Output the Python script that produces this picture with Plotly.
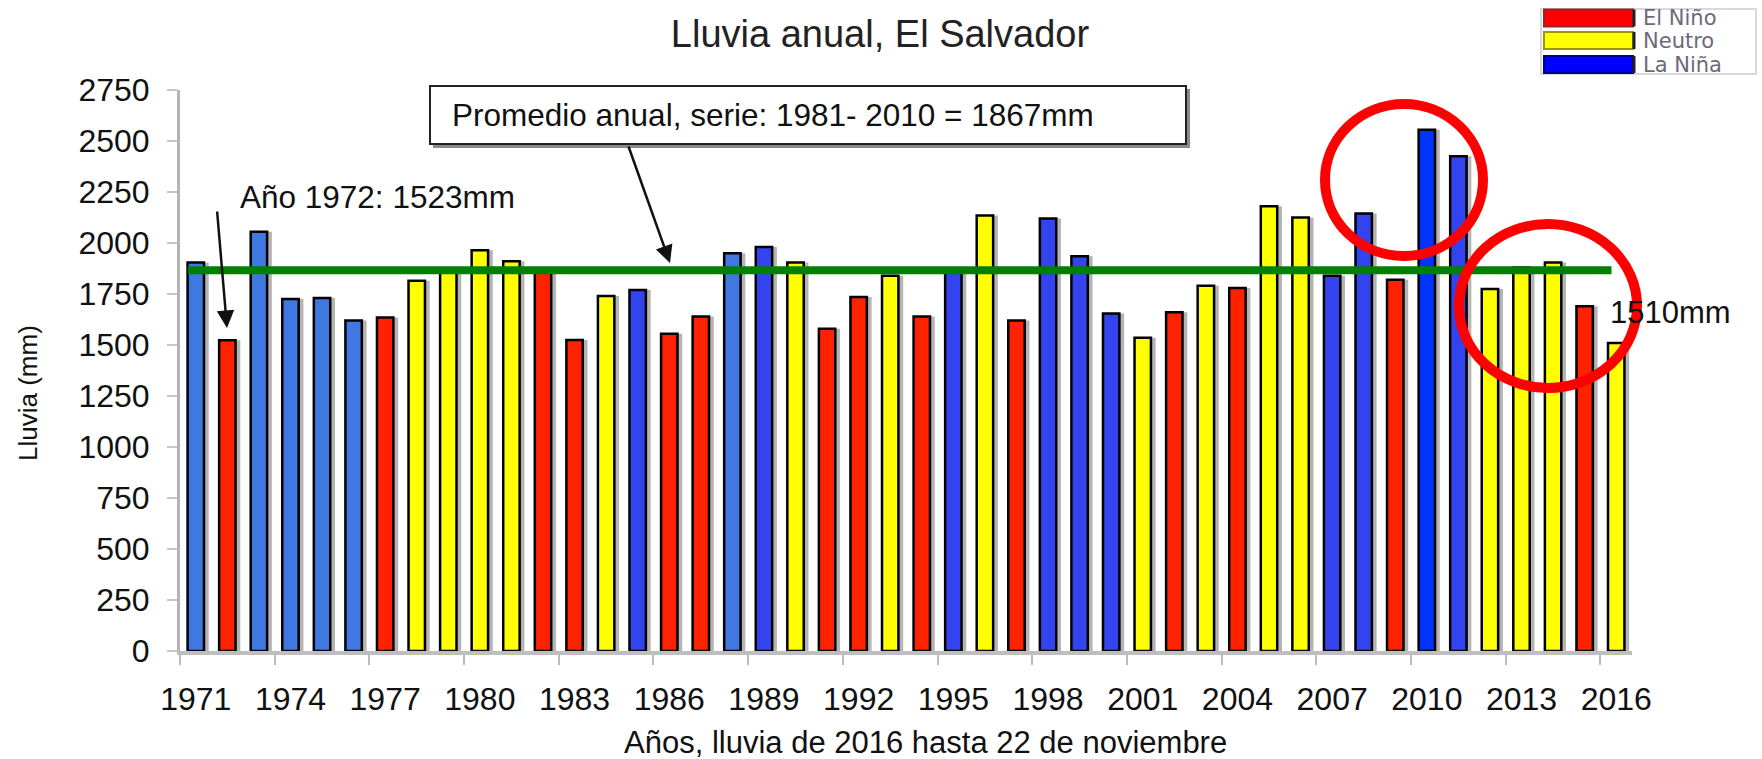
import plotly.graph_objects as go

# ---------------- data ----------------
YEARS = list(range(1971, 2017))
RAIN_MM = [1905, 1523, 2055, 1725, 1730, 1620, 1635, 1815, 1875, 1965,
           1910, 1875, 1525, 1740, 1770, 1555, 1640, 1950, 1980, 1905,
           1580, 1735, 1840, 1640, 1875, 2135, 1620, 2120, 1935, 1655,
           1535, 1660, 1790, 1780, 2180, 2125, 1840, 2145, 1820, 2555,
           2425, 1775, 1880, 1905, 1690, 1510]
PHASE = ["LN", "EN", "LN", "LN", "LN", "LN", "EN", "N", "N", "N",
         "N", "EN", "EN", "N", "LN", "EN", "EN", "LN", "LN", "N",
         "EN", "EN", "N", "EN", "LN", "N", "EN", "LN", "LN", "LN",
         "N", "EN", "N", "EN", "N", "N", "LN", "LN", "EN", "LN",
         "LN", "N", "N", "N", "EN", "N"]
AVG_1981_2010 = 1867
AVG_LINE_START, AVG_LINE_END = 1970.75, 2015.85
TICK_YEARS = list(range(1971, 2017, 3))
Y_TICKS = list(range(0, 2751, 250))
LEGEND_LABELS = ["El Niño", "Neutro", "La Niña"]

# ---------------- style ----------------
FONT = "Liberation Sans, Arial, sans-serif"
W, H = 1762, 759
L, R, T, B = 180, 130, 90, 108
PW, PH = W - L - R, H - T - B
LIGHT_BLUE_YEARS = {1971, 1973, 1974, 1975, 1976, 1988}
BRIGHT_BLUE_YEARS = {2010}


def bar_color(year, phase):
    if phase == "EN":
        return "#FF2200"
    if phase == "N":
        return "#FFFF00"
    if year in LIGHT_BLUE_YEARS:
        return "#3F78E0"
    if year in BRIGHT_BLUE_YEARS:
        return "#0033FF"
    return "#3344EE"


def px(x):
    return (x - L) / PW


def py(y):
    return (H - B - y) / PH


colors = [bar_color(y, p) for y, p in zip(YEARS, PHASE)]
BW = 0.52

fig = go.Figure()
# shadow
fig.add_trace(go.Bar(x=YEARS, y=RAIN_MM, width=BW, offset=-BW / 2 + 0.15,
                     marker=dict(color="#B4B4B4", line=dict(width=0)),
                     showlegend=False, hoverinfo="skip"))
fig.add_trace(go.Bar(x=YEARS, y=RAIN_MM, width=BW, offset=-BW / 2,
                     marker=dict(color=colors, line=dict(color="#000000", width=2.5)),
                     showlegend=False))

shapes = []
# average line
shapes.append(dict(type="line", xref="x", yref="y", x0=AVG_LINE_START, x1=AVG_LINE_END,
                   y0=AVG_1981_2010, y1=AVG_1981_2010,
                   line=dict(color="#008000", width=8), layer="above"))
# red circles
shapes.append(dict(type="circle", xref="paper", yref="paper",
                   x0=px(1325), x1=px(1483), y0=py(256), y1=py(104),
                   line=dict(color="#FF0000", width=10)))
shapes.append(dict(type="circle", xref="paper", yref="paper",
                   x0=px(1459), x1=px(1637), y0=py(388), y1=py(224),
                   line=dict(color="#FF0000", width=10)))
# annotation box (shadow + box)
shapes.append(dict(type="rect", xref="paper", yref="paper",
                   x0=px(433), x1=px(1190), y0=py(148), y1=py(89),
                   fillcolor="#8A8A8A", line=dict(width=0)))
shapes.append(dict(type="rect", xref="paper", yref="paper",
                   x0=px(430), x1=px(1186), y0=py(144), y1=py(86),
                   fillcolor="#FFFFFF", line=dict(color="#222222", width=2)))
# legend
shapes.append(dict(type="rect", xref="paper", yref="paper",
                   x0=px(1541), x1=px(1756), y0=py(74), y1=py(9),
                   fillcolor="#FFFFFF", line=dict(color="#D8D8E0", width=2)))
leg_fill = ["#FF0000", "#FFFF00", "#0000FF"]
leg_line = ["#992222", "#999900", "#000088"]
leg_rows = [(9.5, 26.5), (32, 49), (56, 73)]
for fc, lc, (y0, y1) in zip(leg_fill, leg_line, leg_rows):
    shapes.append(dict(type="rect", xref="paper", yref="paper",
                       x0=px(1544), x1=px(1633), y0=py(y1), y1=py(y0),
                       fillcolor=fc, line=dict(color=lc, width=2)))
    shapes.append(dict(type="line", xref="paper", yref="paper",
                       x0=px(1634), x1=px(1634), y0=py(y1), y1=py(y0),
                       line=dict(color="#222222", width=3)))

annotations = []
for lab, (y0, y1) in zip(LEGEND_LABELS, leg_rows):
    annotations.append(dict(text=lab, xref="paper", yref="paper", x=px(1641), y=py((y0 + y1) / 2),
                            xanchor="left", yanchor="middle", showarrow=False,
                            font=dict(family="DejaVu Sans, sans-serif", size=21, color="#6A6A7A")))
annotations += [
    dict(text="Promedio anual, serie: 1981- 2010 = 1867mm", xref="paper", yref="paper",
         x=px(450), y=py(115), xanchor="left", yanchor="middle", showarrow=False,
         font=dict(family=FONT, size=31.5, color="#111111")),
    dict(text="Año 1972: 1523mm", xref="paper", yref="paper",
         x=px(238), y=py(197), xanchor="left", yanchor="middle", showarrow=False,
         font=dict(family=FONT, size=31.5, color="#111111")),
    dict(text="1510mm", xref="paper", yref="paper",
         x=px(1608), y=py(312), xanchor="left", yanchor="middle", showarrow=False,
         font=dict(family=FONT, size=31, color="#111111")),
    # arrows
    dict(text="", xref="paper", yref="paper", x=px(670), y=py(263), ax=-42, ay=-118,
         showarrow=True, arrowhead=2, arrowsize=1.4, arrowwidth=2.5, arrowcolor="#111111"),
    dict(text="", xref="paper", yref="paper", x=px(227), y=py(328), ax=-10, ay=-118,
         showarrow=True, arrowhead=2, arrowsize=1.4, arrowwidth=2.5, arrowcolor="#111111"),
    # axis titles
    dict(text="Lluvia (mm)", xref="paper", yref="paper", x=px(28), y=py(393),
         xanchor="center", yanchor="middle", textangle=-90, showarrow=False,
         font=dict(family=FONT, size=26, color="#111111")),
    dict(text="Años, lluvia de 2016 hasta 22 de noviembre", xref="paper", yref="paper",
         x=px(925), y=py(742), xanchor="center", yanchor="middle", showarrow=False,
         font=dict(family=FONT, size=31, color="#111111")),
]

fig.update_layout(
    width=W, height=H,
    margin=dict(l=L, r=R, t=T, b=B, autoexpand=False),
    paper_bgcolor="#FFFFFF", plot_bgcolor="#FFFFFF",
    barmode="overlay",
    title=dict(text="Lluvia anual, El Salvador", x=880 / W, y=1 - 34 / H,
               xanchor="center", yanchor="middle",
               font=dict(family=FONT, size=38, color="#222222")),
    shapes=shapes, annotations=annotations,
    showlegend=False,
)
fig.update_xaxes(range=[1970.5, 2016.5], tickmode="array", tickvals=TICK_YEARS,
                 ticktext=[str(t) for t in TICK_YEARS],
                 ticks="outside", ticklen=10, tickcolor="rgba(0,0,0,0)",
                 ticklabelstandoff=7,
                 minor=dict(tickmode="linear", tick0=1970.5, dtick=3, ticks="outside",
                            ticklen=10, tickcolor="#BBBBBB", tickwidth=2, showgrid=False),
                 showline=True, linecolor="#BEBEBE", linewidth=4,
                 showgrid=False, zeroline=False,
                 tickfont=dict(family=FONT, size=32, color="#111111"))
fig.update_yaxes(range=[0, 2750], tickmode="array", tickvals=Y_TICKS,
                 ticks="outside", ticklen=10, tickcolor="#C8C8C8", tickwidth=2,
                 ticklabelstandoff=11,
                 showline=True, linecolor="#B4B4B4", linewidth=3,
                 showgrid=False, zeroline=False,
                 tickfont=dict(family=FONT, size=32, color="#111111"))

fig.write_html("out.html", config={"displayModeBar": False},
               post_script="document.body.style.margin='0';document.body.style.overflow='hidden';")
